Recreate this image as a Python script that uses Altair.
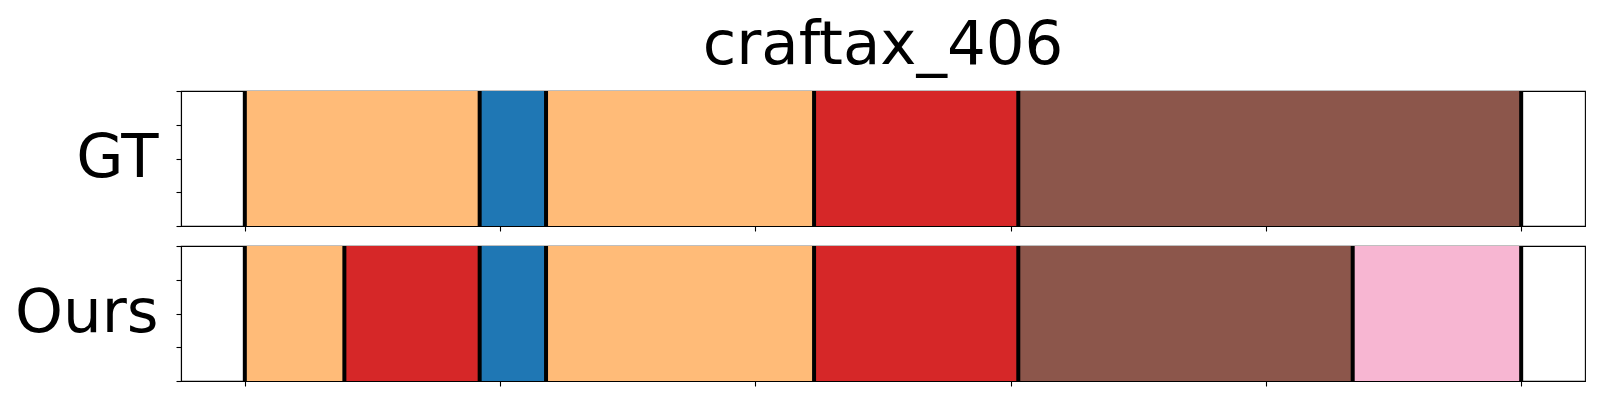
import altair as alt
import pandas as pd

# segment classes and their colours
classes = ["orange", "blue", "red", "brown", "pink"]
palette = ["#ffbb78", "#1f77b4", "#d62728", "#8c564b", "#f7b6d2"]

# Ground-truth segmentation (boundaries in frames) and labels
gt_bounds = [0, 92, 118, 223, 303, 500]
gt_labels = ["orange", "blue", "orange", "red", "brown"]

# Predicted segmentation
ours_bounds = [0, 39, 92, 118, 223, 303, 434, 500]
ours_labels = ["orange", "red", "blue", "orange", "red", "brown", "pink"]

x_ticks = [0, 100, 200, 300, 400, 500]
y_ticks = [0, 0.25, 0.5, 0.75, 1]

FONT = "DejaVu Sans"
FS = 61


def panel(name, bounds, labels, title=None):
    df = pd.DataFrame({
        "start": bounds[:-1],
        "end": bounds[1:],
        "cls": labels,
        "y0": [0] * len(labels),
        "y1": [1] * len(labels),
    })
    rules = pd.DataFrame({"b": bounds})
    xsc = alt.Scale(domain=[-25, 525], nice=False, zero=False)
    ysc = alt.Scale(domain=[0, 1], nice=False, zero=False)
    xax = alt.Axis(values=x_ticks, labels=False, title=None, ticks=True, tickSize=5,
                   tickColor="black", tickWidth=1.1, domainColor="black", domainWidth=1.1,
                   grid=False)
    yax = alt.Axis(values=y_ticks, labels=False, title=name, titleAngle=0,
                   titleAlign="right", titleBaseline="alphabetic", titleX=-23, titleY=85,
                   titleFontSize=FS, titleFont=FONT, titleFontWeight="normal",
                   titleColor="black", ticks=True, tickSize=5, tickColor="black",
                   tickWidth=1.1, domainColor="black", domainWidth=1.1, grid=False)
    bars = alt.Chart(df).mark_rect().encode(
        x=alt.X("start:Q", scale=xsc, axis=xax),
        x2="end:Q",
        y=alt.Y("y0:Q", scale=ysc, axis=yax),
        y2="y1:Q",
        color=alt.Color("cls:N", scale=alt.Scale(domain=classes, range=palette), legend=None),
    )
    lines = alt.Chart(rules).mark_rule(color="black", strokeWidth=4).encode(
        x=alt.X("b:Q", scale=xsc)
    )
    ch = alt.layer(bars, lines).properties(width=1404, height=135)
    if title:
        ch = ch.properties(title=alt.TitleParams(
            text=title, fontSize=FS, font=FONT, fontWeight="normal", anchor="middle",
            frame="group", offset=12, color="black"))
    return ch


top = panel("GT", gt_bounds, gt_labels, title="craftax_406")
bottom = panel("Ours", ours_bounds, ours_labels)

chart = alt.vconcat(top, bottom, spacing=20, bounds="flush").properties(
    padding={"left": 5, "top": 6, "right": 5, "bottom": 5}
).configure_view(stroke="black", strokeWidth=1.1)

chart.save("out.html", embed_options={"renderer": "svg", "actions": False})
